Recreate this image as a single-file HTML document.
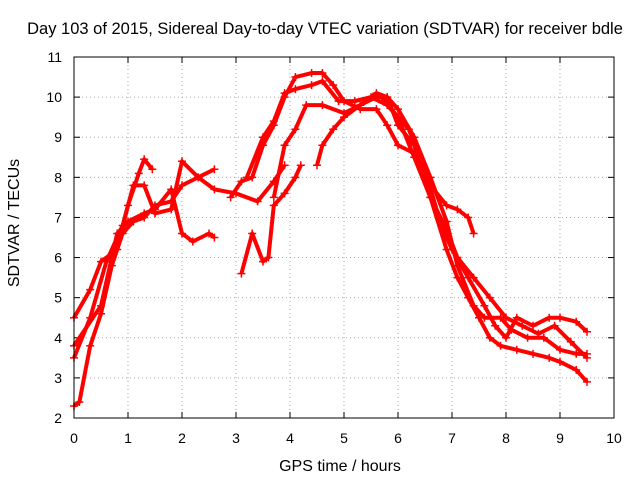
<!DOCTYPE html>
<html><head><meta charset="utf-8"><style>
body{margin:0;background:#fff}
svg{display:block;font-family:"Liberation Sans",sans-serif;font-size:14px}
</style></head><body>
<svg id="chart" width="640" height="480">
<text x="325" y="34" text-anchor="middle" style="font-size:16.5px">Day 103 of 2015, Sidereal Day-to-day VTEC variation (SDTVAR) for receiver bdle</text>
<text x="340" y="471" text-anchor="middle" style="font-size:16px">GPS time / hours</text>
<text transform="translate(19,223) rotate(-90)" text-anchor="middle" style="font-size:16px">SDTVAR / TECUs</text>
<g id="grid"></g><g id="series"></g>
<rect x="74" y="57" width="540" height="361" fill="none" stroke="#000"/>
</svg>
<script>
const xTicks=[0,1,2,3,4,5,6,7,8,9,10];
const yTicks=[2,3,4,5,6,7,8,9,10,11];
const t1=[[0,2.3],[0.1,2.4],[0.3,3.8],[0.5,4.6],[0.7,5.8],[0.9,6.6],[1.1,6.9],[1.3,7.0],[1.5,7.3],[1.8,7.4],[2.0,7.8],[2.3,8.0],[2.6,8.2]];
const t2=[[0,3.5],[0.3,4.5],[0.6,5.9],[0.9,6.8],[1.1,7.8],[1.3,7.8],[1.5,7.1],[1.8,7.2],[2.0,8.4],[2.3,8.0],[2.6,7.7],[3.0,7.6],[3.4,7.4],[3.7,7.9],[3.9,8.3]];
const t3=[[0,4.5],[0.3,5.2],[0.5,5.9],[0.8,6.2],[1.0,7.3],[1.2,8.1],[1.3,8.45],[1.45,8.2]];
const t4=[[0,3.8],[0.5,4.8],[0.8,6.6],[1.0,6.9],[1.3,7.1],[1.5,7.2],[1.8,7.7],[2.0,6.6],[2.2,6.4],[2.5,6.6],[2.6,6.5]];
const t5=[[3.1,5.6],[3.3,6.6],[3.5,5.9],[3.6,6.0],[3.7,7.3],[3.9,7.6],[4.1,8.0],[4.2,8.3]];
const t6=[[2.9,7.5],[3.1,7.9],[3.3,8.0],[3.5,8.8],[3.7,9.3],[3.9,10.0],[4.1,10.5],[4.4,10.6],[4.6,10.6],[4.8,10.3],[5.0,9.9],[5.3,9.7],[5.6,9.7],[5.8,9.3],[6.0,8.8],[6.3,8.6],[6.6,7.8],[6.9,7.3],[7.1,7.2],[7.3,7.0],[7.4,6.6]];
const t7=[[3.2,8.0],[3.5,9.0],[3.7,9.4],[3.9,10.1],[4.1,10.2],[4.4,10.3],[4.6,10.4],[4.9,9.9],[5.2,9.9],[5.5,10.0],[5.8,9.8],[6.2,9.2],[6.5,8.2],[6.8,6.8],[7.0,6.2],[7.3,5.5],[7.6,4.8],[7.8,4.3],[8.0,4.0],[8.2,4.5],[8.5,4.3],[8.8,4.5],[9.0,4.5],[9.3,4.4],[9.5,4.15]];
const t8=[[3.7,7.5],[3.9,8.8],[4.1,9.2],[4.3,9.8],[4.6,9.8],[5.0,9.6],[5.3,9.8],[5.6,10.0],[5.8,10.0],[6.0,9.7],[6.3,9.0],[6.6,8.0],[6.9,6.9],[7.1,5.8],[7.4,4.8],[7.6,4.5],[7.9,4.5],[8.1,4.2],[8.4,4.0],[8.7,4.0],[9.0,3.7],[9.3,3.6],[9.5,3.6]];
const t9=[[4.5,8.3],[4.6,8.8],[4.8,9.2],[5.0,9.5],[5.3,9.8],[5.6,10.1],[5.8,10.0],[6.0,9.3],[6.3,8.8],[6.6,7.5],[6.9,6.2],[7.1,5.5],[7.3,5.0],[7.5,4.5],[7.7,4.0],[7.9,3.8],[8.2,3.7],[8.5,3.6],[8.8,3.5],[9.0,3.4],[9.3,3.2],[9.5,2.9]];
const t10=[[5.7,10.0],[6.0,9.5],[6.3,8.5],[6.6,7.5],[6.9,6.7],[7.1,6.0],[7.4,5.5],[7.7,5.0],[8.0,4.5],[8.3,4.3],[8.6,4.1],[8.9,4.3],[9.2,3.9],[9.5,3.5]];
const traces=[t1,t2,t3,t4,t5,t6,t7,t8,t9,t10];
const NS="http://www.w3.org/2000/svg";
const X=v=>74+v*54, Y=v=>418-(v-2)*(361/9);
function mk(tag,at,parent){const e=document.createElementNS(NS,tag);for(const k in at)e.setAttribute(k,at[k]);parent.appendChild(e);return e;}
const g=document.getElementById('grid'),s=document.getElementById('series');
xTicks.forEach(v=>{
 if(v>0&&v<10){const l=mk('line',{x1:X(v),x2:X(v),y1:57,y2:418,stroke:'#aaa','stroke-dasharray':'1,3'},g);
 
 }
 mk('line',{x1:X(v),x2:X(v),y1:418,y2:412,stroke:'#000'},g);
 mk('line',{x1:X(v),x2:X(v),y1:57,y2:63,stroke:'#000'},g);
 const t=mk('text',{x:X(v),y:443,'text-anchor':'middle'},g);t.textContent=v;
 
 
});
yTicks.forEach(v=>{
 if(v>2&&v<11){const l=mk('line',{x1:74,x2:614,y1:Y(v),y2:Y(v),stroke:'#aaa','stroke-dasharray':'1,3'},g);
 
 }
 mk('line',{x1:74,x2:80,y1:Y(v),y2:Y(v),stroke:'#000'},g);
 mk('line',{x1:614,x2:608,y1:Y(v),y2:Y(v),stroke:'#000'},g);
 const t=mk('text',{x:62,y:Y(v)+5,'text-anchor':'end'},g);t.textContent=v;
 
 
});
traces.forEach((tr,i)=>{
 const p=mk('polyline',{points:tr.map(d=>X(d[0])+','+Y(d[1])).join(' '),fill:'none',stroke:'#f00','stroke-width':4,'stroke-linejoin':'round'},s);
 
 
 tr.forEach(d=>{
  const m=mk('path',{d:`M${X(d[0])-4},${Y(d[1])}h8M${X(d[0])},${Y(d[1])-4}v8`,stroke:'#f00','stroke-width':1.5},s);
  
  
 });
});
</script>
</body></html>
